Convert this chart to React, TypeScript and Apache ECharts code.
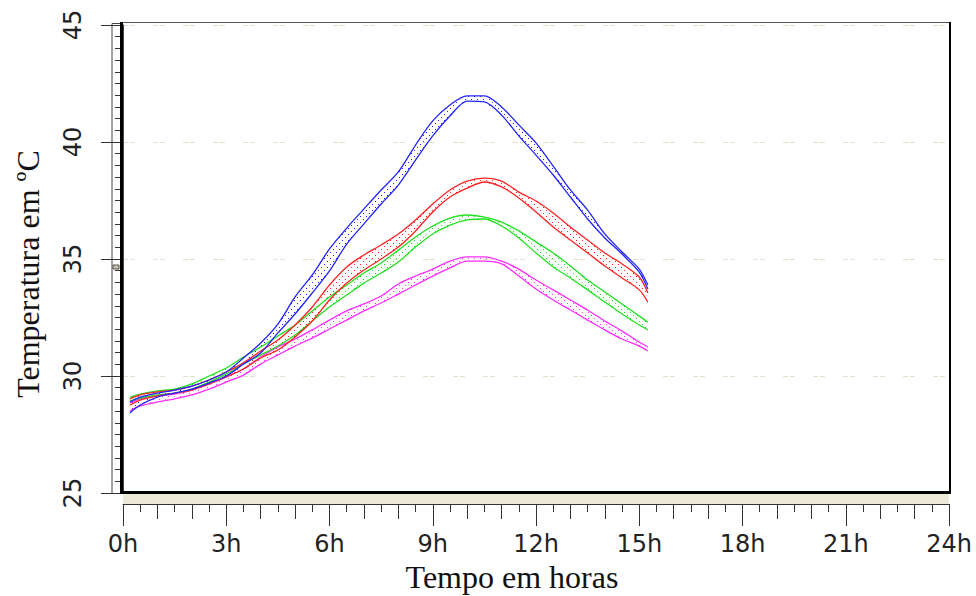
import { useEffect, useRef } from "react";
import * as echarts from "echarts";

// time (hours)
const HOURS = [0.2, 0.5, 1, 1.5, 2, 2.5, 3, 3.5, 4, 4.5, 5, 5.5, 6, 6.5, 7, 7.5, 8, 8.5, 9, 9.5, 10, 10.5, 11, 11.5, 12, 12.5, 13, 13.5, 14, 14.5, 15, 15.25];

// temperatures (ºC): upper / lower edge of each band
const BLUE_UPPER = [28.89, 29.10, 29.27, 29.40, 29.57, 29.83, 30.17, 30.77, 31.41, 32.22, 33.38, 34.32, 35.43, 36.32, 37.14, 37.95, 38.72, 39.87, 40.90, 41.58, 41.97, 41.97, 41.50, 40.73, 39.96, 38.97, 37.95, 37.09, 36.07, 35.30, 34.57, 33.89];
const BLUE_LOWER = [28.42, 28.76, 29.10, 29.27, 29.44, 29.70, 30.00, 30.51, 30.98, 31.84, 32.65, 33.55, 34.49, 35.64, 36.50, 37.35, 38.16, 39.23, 40.26, 41.11, 41.75, 41.71, 41.15, 40.26, 39.44, 38.59, 37.65, 36.71, 35.90, 35.21, 34.44, 33.72];
const RED_UPPER = [29.02, 29.19, 29.32, 29.40, 29.57, 29.83, 30.17, 30.56, 31.07, 31.54, 32.18, 32.95, 33.89, 34.66, 35.17, 35.60, 36.07, 36.67, 37.35, 37.95, 38.33, 38.46, 38.33, 37.86, 37.48, 36.97, 36.37, 35.81, 35.26, 34.79, 34.23, 33.55];
const RED_LOWER = [28.76, 28.97, 29.15, 29.27, 29.40, 29.66, 29.96, 30.30, 30.77, 31.11, 31.67, 32.35, 33.25, 33.97, 34.53, 35.00, 35.51, 36.20, 37.01, 37.65, 38.03, 38.29, 38.08, 37.61, 37.01, 36.37, 35.81, 35.26, 34.70, 34.19, 33.68, 33.16];
const GREEN_UPPER = [29.10, 29.23, 29.36, 29.44, 29.66, 30.00, 30.34, 30.81, 31.24, 31.71, 32.18, 32.78, 33.38, 33.89, 34.40, 34.83, 35.38, 35.94, 36.41, 36.75, 36.88, 36.79, 36.58, 36.20, 35.73, 35.26, 34.70, 34.10, 33.59, 33.08, 32.56, 32.31];
const GREEN_LOWER = [28.93, 29.06, 29.19, 29.27, 29.44, 29.74, 30.09, 30.51, 30.90, 31.28, 31.75, 32.35, 32.95, 33.46, 33.97, 34.40, 34.87, 35.51, 36.07, 36.45, 36.67, 36.71, 36.41, 35.90, 35.26, 34.66, 34.19, 33.68, 33.16, 32.65, 32.18, 31.97];
const MAGENTA_UPPER = [28.85, 29.02, 29.15, 29.23, 29.40, 29.66, 29.96, 30.30, 30.81, 31.24, 31.58, 31.97, 32.39, 32.78, 33.08, 33.42, 33.93, 34.27, 34.57, 34.91, 35.09, 35.09, 34.91, 34.57, 34.10, 33.68, 33.25, 32.82, 32.35, 31.92, 31.45, 31.24];
const MAGENTA_LOWER = [28.50, 28.72, 28.89, 29.02, 29.19, 29.44, 29.74, 30.04, 30.51, 30.90, 31.28, 31.62, 32.01, 32.39, 32.78, 33.12, 33.50, 33.89, 34.27, 34.62, 34.91, 34.91, 34.79, 34.27, 33.72, 33.25, 32.82, 32.39, 31.97, 31.58, 31.28, 31.07];

const BANDS = [
  { name: "magenta", color: "#ff2cff", upper: MAGENTA_UPPER, lower: MAGENTA_LOWER },
  { name: "green", color: "#22e022", upper: GREEN_UPPER, lower: GREEN_LOWER },
  { name: "red", color: "#ff2424", upper: RED_UPPER, lower: RED_LOWER },
  { name: "blue", color: "#2424ff", upper: BLUE_UPPER, lower: BLUE_LOWER },
];

const X_TITLE = "Tempo em horas";
const Y_TITLE = "Temperatura em ºC";

function dotPattern(color: string) {
  const c = document.createElement("canvas");
  c.width = 6;
  c.height = 6;
  const ctx = c.getContext("2d");
  if (ctx) {
    ctx.fillStyle = color;
    ctx.fillRect(0, 0, 1, 1);
    ctx.fillRect(3, 3, 1, 1);
  }
  return { image: c, repeat: "repeat", imageWidth: 6, imageHeight: 6 } as any;
}

export default function App() {
  const ref = useRef<HTMLDivElement>(null);
  useEffect(() => {
    if (!ref.current) return;
    const chart = echarts.init(ref.current, undefined, { renderer: "svg" });
    const series: any[] = [];
    BANDS.forEach((b) => {
      const pattern = dotPattern(b.color);
      series.push({
        type: "custom",
        name: b.name + "-fill",
        xAxisIndex: 0,
        yAxisIndex: 0,
        silent: true,
        data: [[1, 30]],
        renderItem: (_p: any, api: any) => {
          const pts: number[][] = [];
          for (let i = 0; i < HOURS.length; i++) pts.push(api.coord([HOURS[i], b.upper[i]]));
          for (let i = HOURS.length - 1; i >= 0; i--) pts.push(api.coord([HOURS[i], b.lower[i]]));
          return { type: "polygon", shape: { points: pts }, style: { fill: pattern, stroke: null } };
        },
        z: 2,
      });
      [b.upper, b.lower].forEach((arr) => {
        series.push({
          type: "line",
          xAxisIndex: 0,
          yAxisIndex: 0,
          silent: true,
          showSymbol: false,
          smooth: 0.3,
          data: HOURS.map((h, i) => [h, arr[i]]),
          lineStyle: { color: b.color, width: 1.3 },
          z: 3,
        });
      });
    });

    chart.setOption({
      animation: false,
      backgroundColor: "#ffffff",
      grid: { left: 123, right: 27, top: 25, bottom: 103, containLabel: false },
      xAxis: [
        {
          type: "value",
          min: 0,
          max: 24,
          interval: 3,
          position: "bottom",
          offset: 11,
          axisLine: { show: true, lineStyle: { color: "#333", width: 1 } },
          axisTick: { show: true, length: 22, lineStyle: { color: "#333", width: 1 } },
          minorTick: { show: true, splitNumber: 6, length: 8, lineStyle: { color: "#333", width: 1 } },
          axisLabel: {
            formatter: (v: number) => v + "h",
            fontSize: 24,
            fontFamily: "DejaVu Sans",
            color: "#222",
            margin: 28,
          },
          splitLine: { show: false },
        },
        {
          type: "value",
          min: 0,
          max: 24,
          interval: 1,
          position: "bottom",
          offset: 11,
          axisLine: { show: false },
          axisTick: { show: true, length: 15, lineStyle: { color: "#333", width: 1 } },
          axisLabel: { show: false },
          splitLine: { show: false },
        },
      ],
      yAxis: {
        type: "value",
        min: 25,
        max: 45,
        interval: 5,
        position: "left",
        offset: 11,
        axisLine: { show: true, lineStyle: { color: "#444", width: 1 } },
        axisTick: { show: true, length: 22, lineStyle: { color: "#333", width: 1 } },
        minorTick: { show: true, splitNumber: 10, length: 8, lineStyle: { color: "#333", width: 1 } },
        axisLabel: {
          rotate: 90,
          fontSize: 24,
          fontFamily: "DejaVu Sans",
          color: "#222",
          margin: 27,
        },
        splitLine: { show: true, lineStyle: { color: "#e4e0cc", width: 1, type: [5, 2, 5, 18] } },
      },
      graphic: [
        { type: "rect", shape: { x: 112, y: 23.5, width: 10, height: 470 }, style: { fill: "#fff", stroke: "#444", lineWidth: 1 }, z: -1 },
        { type: "rect", shape: { x: 123, y: 494, width: 826, height: 10 }, style: { fill: "#ece9d8", stroke: null }, z: -1 },
        { type: "line", shape: { x1: 122, y1: 22.5, x2: 951, y2: 22.5 }, style: { stroke: "#555", lineWidth: 1 }, z: 10 },
        { type: "line", shape: { x1: 121.5, y1: 22, x2: 121.5, y2: 494 }, style: { stroke: "#000", lineWidth: 3 }, z: 10 },
        { type: "line", shape: { x1: 950, y1: 22, x2: 950, y2: 494 }, style: { stroke: "#000", lineWidth: 2 }, z: 10 },
        { type: "line", shape: { x1: 120, y1: 492.5, x2: 951, y2: 492.5 }, style: { stroke: "#000", lineWidth: 3 }, z: 10 },
        { type: "rect", shape: { x: 113, y: 265, width: 6, height: 4 }, style: { fill: "#c8c4a8", stroke: "#555", lineWidth: 1 }, z: 10 },
        {
          type: "text",
          x: 512,
          y: 577,
          style: { text: X_TITLE, font: '32px "Liberation Serif"', fill: "#111", align: "center", verticalAlign: "middle", textAlign: "center", textVerticalAlign: "middle" },
        },
        {
          type: "text",
          x: 28,
          y: 274,
          rotation: Math.PI / 2,
          style: { text: Y_TITLE, font: '32px "Liberation Serif"', fill: "#111", align: "center", verticalAlign: "middle", textAlign: "center", textVerticalAlign: "middle" },
        },
      ],
      series,
    });
    return () => chart.dispose();
  }, []);
  return <div ref={ref} style={{ position: "fixed", left: 0, top: 0, width: 976, height: 596, background: "#fff" }} />;
}
